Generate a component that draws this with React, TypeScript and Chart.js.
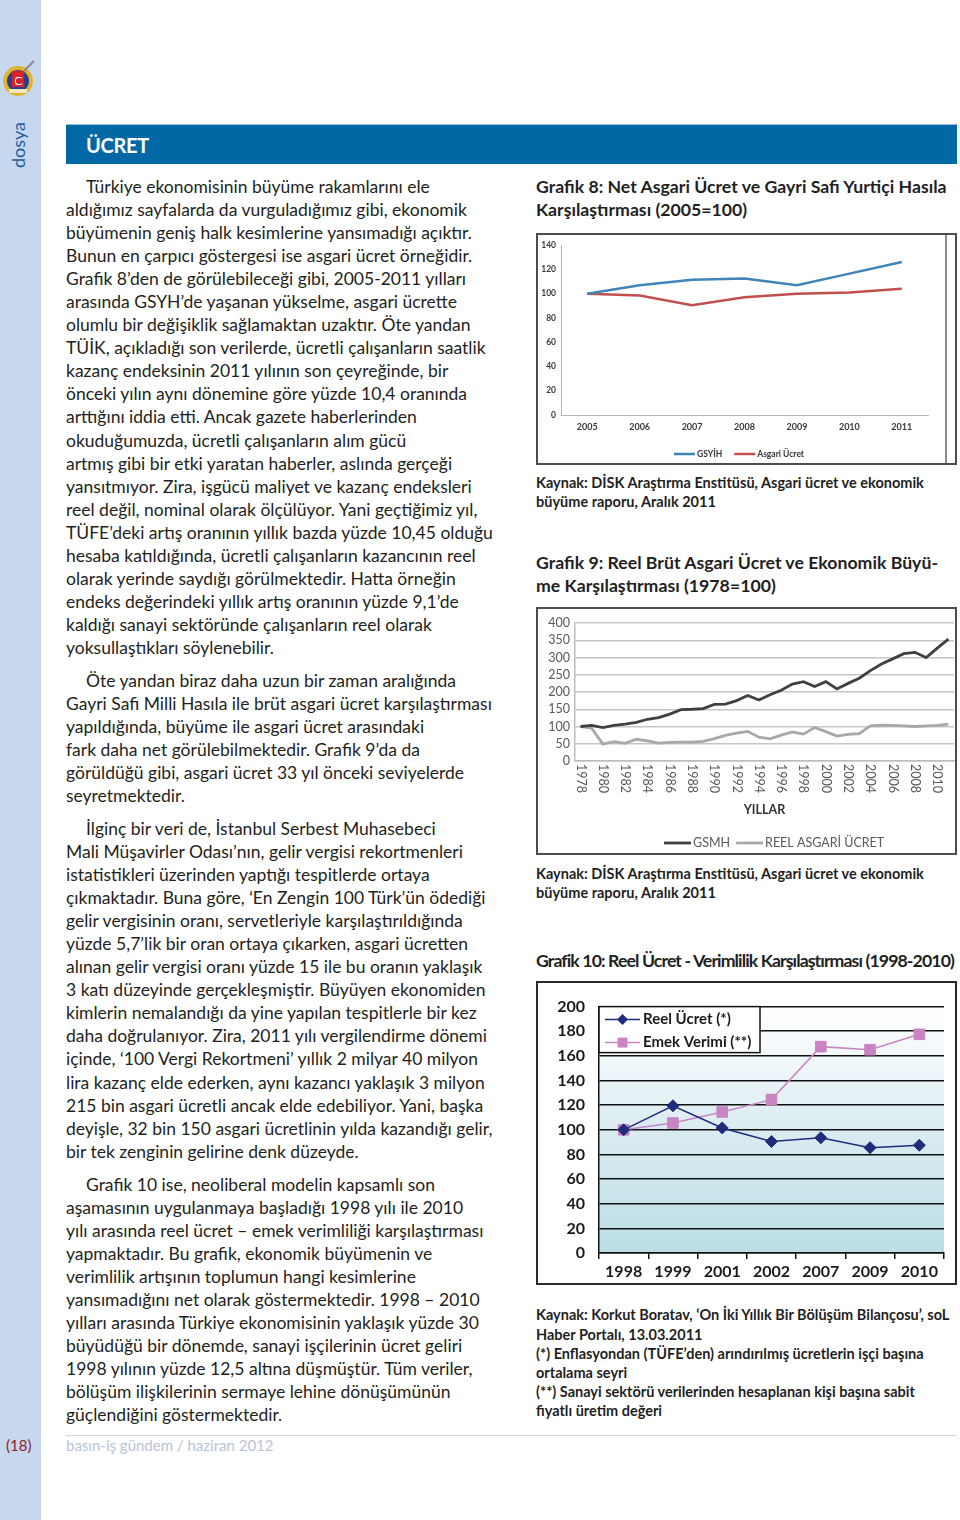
import React, { useEffect, useRef } from "react";
import { Chart, registerables } from "chart.js";
Chart.register(...registerables);

const FONT = "Lato, 'Open Sans', sans-serif";

// ---------- Grafik 8 data ----------
const g8Years = ["2005", "2006", "2007", "2008", "2009", "2010", "2011"];
const g8Gsyih = [100, 107, 111.5, 112.5, 107, 116.5, 126];
const g8Asgari = [100, 98.5, 90.5, 97, 100, 101, 104];
const g8Names = ["GSYİH", "Asgari Ücret"];

// ---------- Grafik 9 data ----------
const g9Years = [
  "1978", "1979", "1980", "1981", "1982", "1983", "1984", "1985", "1986", "1987",
  "1988", "1989", "1990", "1991", "1992", "1993", "1994", "1995", "1996", "1997",
  "1998", "1999", "2000", "2001", "2002", "2003", "2004", "2005", "2006", "2007",
  "2008", "2009", "2010", "2011",
];
const g9Gsmh = [
  100, 103, 97, 103, 107, 112, 121, 126, 136, 149,
  150, 152, 164, 165, 175, 190, 177, 192, 205, 223,
  230, 216, 230, 209, 225, 240, 262, 281, 296, 311,
  315, 300, 327, 353,
];
const g9Reel = [
  100, 95, 49, 56, 51, 63, 58, 52, 54, 55,
  55, 57, 65, 74, 81, 86, 69, 64, 75, 84,
  78, 97, 85, 72, 77, 79, 102, 104, 103, 102,
  100, 102, 103, 107,
];
const g9Names = ["GSMH", "REEL ASGARİ ÜCRET"];
const g9AxisTitle = "YILLAR";

// ---------- Grafik 10 data ----------
const g10Years = ["1998", "1999", "2001", "2002", "2007", "2009", "2010"];
const g10Reel = [100, 119.5, 101.5, 90.5, 93.5, 85.5, 87.5];
const g10Emek = [100, 105.5, 114.5, 124.5, 167.5, 165, 177.5];
const g10Names = ["Reel Ücret (*)", "Emek Verimi (**)"];

// ---------- text ----------
const leftParas: { top: number; lines: string[] }[] = [
  {
    top: 174.5,
    lines: [
      "Türkiye ekonomisinin büyüme rakamlarını ele",
      "aldığımız sayfalarda da vurguladığımız gibi, ekonomik",
      "büyümenin geniş halk kesimlerine yansımadığı açıktır.",
      "Bunun en çarpıcı göstergesi ise asgari ücret örneğidir.",
      "Grafik 8’den de görülebileceği gibi, 2005-2011 yılları",
      "arasında GSYH’de yaşanan yükselme, asgari ücrette",
      "olumlu bir değişiklik sağlamaktan uzaktır. Öte yandan",
      "TÜİK, açıkladığı son verilerde, ücretli çalışanların saatlik",
      "kazanç endeksinin 2011 yılının son çeyreğinde, bir",
      "önceki yılın aynı dönemine göre yüzde 10,4 oranında",
      "arttığını iddia etti. Ancak gazete haberlerinden",
      "okuduğumuzda, ücretli çalışanların alım gücü",
      "artmış gibi bir etki yaratan haberler, aslında gerçeği",
      "yansıtmıyor. Zira, işgücü maliyet ve kazanç endeksleri",
      "reel değil, nominal olarak ölçülüyor. Yani geçtiğimiz yıl,",
      "TÜFE’deki artış oranının yıllık bazda yüzde 10,45 olduğu",
      "hesaba katıldığında, ücretli çalışanların kazancının reel",
      "olarak yerinde saydığı görülmektedir. Hatta örneğin",
      "endeks değerindeki yıllık artış oranının yüzde 9,1’de",
      "kaldığı sanayi sektöründe çalışanların reel olarak",
      "yoksullaştıkları söylenebilir.",
    ],
  },
  {
    top: 668.5,
    lines: [
      "Öte yandan biraz daha uzun bir zaman aralığında",
      "Gayri Safi Milli Hasıla ile brüt asgari ücret karşılaştırması",
      "yapıldığında, büyüme ile asgari ücret arasındaki",
      "fark daha net görülebilmektedir. Grafik 9’da da",
      "görüldüğü gibi, asgari ücret 33 yıl önceki seviyelerde",
      "seyretmektedir.",
    ],
  },
  {
    top: 816.5,
    lines: [
      "İlginç bir veri de, İstanbul Serbest Muhasebeci",
      "Mali Müşavirler Odası’nın, gelir vergisi rekortmenleri",
      "istatistikleri üzerinden yaptığı tespitlerde ortaya",
      "çıkmaktadır. Buna göre, ‘En Zengin 100 Türk’ün ödediği",
      "gelir vergisinin oranı, servetleriyle karşılaştırıldığında",
      "yüzde 5,7’lik bir oran ortaya çıkarken, asgari ücretten",
      "alınan gelir vergisi oranı yüzde 15 ile bu oranın yaklaşık",
      "3 katı düzeyinde gerçekleşmiştir. Büyüyen ekonomiden",
      "kimlerin nemalandığı da yine yapılan tespitlerle bir kez",
      "daha doğrulanıyor. Zira, 2011 yılı vergilendirme dönemi",
      "içinde, ‘100 Vergi Rekortmeni’ yıllık 2 milyar 40 milyon",
      "lira kazanç elde ederken, aynı kazancı yaklaşık 3 milyon",
      "215 bin asgari ücretli ancak elde edebiliyor. Yani, başka",
      "deyişle, 32 bin 150 asgari ücretlinin yılda kazandığı gelir,",
      "bir tek zenginin gelirine denk düzeyde.",
    ],
  },
  {
    top: 1172.5,
    lines: [
      "Grafik 10 ise, neoliberal modelin kapsamlı son",
      "aşamasının uygulanmaya başladığı 1998 yılı ile 2010",
      "yılı arasında reel ücret – emek verimliliği karşılaştırması",
      "yapmaktadır. Bu grafik, ekonomik büyümenin ve",
      "verimlilik artışının toplumun hangi kesimlerine",
      "yansımadığını net olarak göstermektedir. 1998 – 2010",
      "yılları arasında Türkiye ekonomisinin yaklaşık yüzde 30",
      "büyüdüğü bir dönemde, sanayi işçilerinin ücret geliri",
      "1998 yılının yüzde 12,5 altına düşmüştür. Tüm veriler,",
      "bölüşüm ilişkilerinin sermaye lehine dönüşümünün",
      "güçlendiğini göstermektedir.",
    ],
  },
];

const title8 = ["Grafik 8: Net Asgari Ücret ve Gayri Safi Yurtiçi Hasıla", "Karşılaştırması (2005=100)"];
const source12 = ["Kaynak: DİSK Araştırma Enstitüsü, Asgari ücret ve ekonomik", "büyüme raporu, Aralık 2011"];
const title9 = ["Grafik 9: Reel Brüt Asgari Ücret ve Ekonomik Büyü-", "me Karşılaştırması (1978=100)"];
const title10 = ["Grafik 10: Reel Ücret - Verimlilik Karşılaştırması (1998-2010)"];
const source3 = [
  "Kaynak: Korkut Boratav, ‘On İki Yıllık Bir Bölüşüm Bilançosu’, soL",
  "Haber Portalı, 13.03.2011",
  "(*) Enflasyondan (TÜFE’den) arındırılmış ücretlerin işçi başına",
  "ortalama seyri",
  "(**) Sanayi sektörü verilerinden hesaplanan kişi başına sabit",
  "fiyatlı üretim değeri",
];

// ---------- helpers ----------
function drawLineLegend(
  ctx: CanvasRenderingContext2D,
  chart: any,
  names: string[],
  startX: number,
  y: number,
  lineLen: number,
  gap: number,
  font: string,
  color: string
) {
  ctx.save();
  ctx.font = font;
  ctx.textBaseline = "middle";
  ctx.textAlign = "left";
  let x = startX;
  chart.data.datasets.forEach((ds: any, i: number) => {
    ctx.strokeStyle = ds.borderColor;
    ctx.lineWidth = ds.borderWidth;
    ctx.beginPath();
    ctx.moveTo(x, y);
    ctx.lineTo(x + lineLen, y);
    ctx.stroke();
    x += lineLen + 2;
    ctx.fillStyle = color;
    ctx.fillText(names[i], x, y);
    x += ctx.measureText(names[i]).width + gap;
  });
  ctx.restore();
}

function ChartBox(props: {
  left: number;
  top: number;
  width: number;
  height: number;
  border: string;
  make: () => any;
  children?: any;
}) {
  const ref = useRef<HTMLCanvasElement | null>(null);
  useEffect(() => {
    if (!ref.current) return;
    const chart = new Chart(ref.current, props.make());
    return () => chart.destroy();
  }, []);
  const bw = 2;
  return (
    <div
      style={{
        position: "absolute",
        left: props.left,
        top: props.top,
        width: props.width,
        height: props.height,
        boxSizing: "border-box",
        border: `${bw}px solid ${props.border}`,
        background: "#fff",
      }}
    >
      <canvas
        ref={ref}
        width={props.width - 2 * bw}
        height={props.height - 2 * bw}
        style={{ display: "block", width: props.width - 2 * bw, height: props.height - 2 * bw }}
      />
      {props.children}
    </div>
  );
}

// ---------- chart configs ----------
function makeG8() {
  return {
    type: "line",
    data: {
      labels: g8Years,
      datasets: [
        { label: g8Names[0], data: g8Gsyih, borderColor: "#3f85ba", borderWidth: 2.5, pointRadius: 0, tension: 0 },
        { label: g8Names[1], data: g8Asgari, borderColor: "#c0504d", borderWidth: 2.5, pointRadius: 0, tension: 0 },
      ],
    },
    options: {
      animation: false,
      responsive: false,
      devicePixelRatio: 1,
      layout: { padding: { top: 7, right: 27, left: 0, bottom: 26 } },
      plugins: { legend: { display: false }, tooltip: { enabled: false } },
      scales: {
        x: {
          offset: true,
          grid: { display: false, drawTicks: false },
          border: { display: true, color: "#b8b8b8", width: 1 },
          ticks: { font: { family: FONT, size: 9, weight: "bold" }, color: "#3a3a3a", padding: 7 },
          afterFit: (s: any) => { s.height = 22; },
        },
        y: {
          min: 0,
          max: 140,
          grid: { display: false, drawTicks: false },
          border: { display: true, color: "#b8b8b8", width: 1 },
          ticks: { stepSize: 20, autoSkip: false, font: { family: FONT, size: 8.5, weight: "bold" }, color: "#3a3a3a", padding: 5 },
          afterFit: (s: any) => { s.width = 23; },
        },
      },
    },
    plugins: [
      {
        id: "leg8",
        afterDraw(chart: any) {
          drawLineLegend(chart.ctx, chart, g8Names, 136, 219, 21, 12, `bold 8.5px ${FONT}`, "#333");
        },
      },
    ],
  };
}

function makeG9() {
  return {
    type: "line",
    data: {
      labels: g9Years,
      datasets: [
        { label: g9Names[0], data: g9Gsmh, borderColor: "#404040", borderWidth: 2.8, pointRadius: 0, tension: 0 },
        { label: g9Names[1], data: g9Reel, borderColor: "#a8a8a8", borderWidth: 2.8, pointRadius: 0, tension: 0 },
      ],
    },
    options: {
      animation: false,
      responsive: false,
      devicePixelRatio: 1,
      layout: { padding: { top: 14, right: 1, left: 0, bottom: 0 } },
      plugins: { legend: { display: false }, tooltip: { enabled: false } },
      scales: {
        x: {
          offset: true,
          grid: { display: false, drawTicks: false },
          border: { display: true, color: "#bdbdbd", width: 1.5 },
          ticks: { display: false, autoSkip: false },
          afterFit: (s: any) => { s.height = 92; },
        },
        y: {
          min: 0,
          max: 400,
          grid: { color: "#c6c6c6", lineWidth: 1.5, drawTicks: false },
          border: { display: true, color: "#bdbdbd", width: 1.5 },
          ticks: { stepSize: 50, autoSkip: false, font: { family: FONT, size: 12.5 }, color: "#595959", padding: 5 },
          afterFit: (s: any) => { s.width = 37; },
        },
      },
    },
    plugins: [
      {
        id: "ticks9",
        afterDraw(chart: any) {
          const ctx = chart.ctx as CanvasRenderingContext2D;
          const xs = chart.scales.x;
          const base = chart.chartArea.bottom + 3;
          ctx.save();
          ctx.font = `12.5px ${FONT}`;
          ctx.fillStyle = "#595959";
          ctx.textAlign = "left";
          ctx.textBaseline = "middle";
          g9Years.forEach((yr, i) => {
            if (i % 2 !== 0) return;
            const x = xs.getPixelForValue(i);
            ctx.save();
            ctx.translate(x, base);
            ctx.rotate(Math.PI / 2);
            ctx.fillText(yr, 0, 0);
            ctx.restore();
          });
          ctx.font = `bold 12.5px ${FONT}`;
          ctx.fillStyle = "#333";
          ctx.textAlign = "center";
          const cx = (chart.chartArea.left + chart.chartArea.right) / 2;
          ctx.fillText(g9AxisTitle, cx, 201);
          ctx.restore();
          drawLineLegend(ctx, chart, g9Names, 126, 234, 27, 6, `12.5px ${FONT}`, "#595959");
        },
      },
    ],
  };
}

function makeG10() {
  return {
    type: "line",
    data: {
      labels: g10Years,
      datasets: [
        {
          label: g10Names[0],
          data: g10Reel,
          borderColor: "#1f2b7b",
          backgroundColor: "#1f2b7b",
          borderWidth: 1.5,
          pointStyle: "rectRot",
          pointRadius: 6,
          pointBorderWidth: 1,
          tension: 0,
        },
        {
          label: g10Names[1],
          data: g10Emek,
          borderColor: "#c985c3",
          backgroundColor: "#c985c3",
          borderWidth: 1.5,
          pointStyle: "rect",
          pointRadius: 7.5,
          pointBorderWidth: 1,
          tension: 0,
        },
      ],
    },
    options: {
      animation: false,
      responsive: false,
      devicePixelRatio: 1,
      layout: { padding: { top: 13, right: 11, left: 0, bottom: 0 } },
      plugins: { legend: { display: false }, tooltip: { enabled: false } },
      scales: {
        x: {
          offset: true,
          grid: { offset: true, drawOnChartArea: false, color: "#111", lineWidth: 1.5, tickLength: 6 },
          border: { display: true, color: "#111", width: 1.5 },
          ticks: { font: { family: FONT, size: 16, weight: "bold" }, color: "#1a1a1a", padding: 3 },
          afterFit: (s: any) => { s.height = 30; },
        },
        y: {
          min: 0,
          max: 200,
          grid: { color: "#111", lineWidth: 1.5, drawTicks: false },
          border: { display: true, color: "#111", width: 1.5 },
          ticks: { stepSize: 20, autoSkip: false, font: { family: FONT, size: 16, weight: "bold" }, color: "#1a1a1a", padding: 14 },
          afterFit: (s: any) => { s.width = 61; },
        },
      },
    },
    plugins: [
      {
        id: "bg10",
        beforeDraw(chart: any) {
          const { ctx, chartArea: a } = chart;
          const g = ctx.createLinearGradient(0, a.top, 0, a.bottom);
          g.addColorStop(0, "#ffffff");
          g.addColorStop(0.25, "#eef6f9");
          g.addColorStop(0.55, "#d6eaf0");
          g.addColorStop(1, "#bcdfe4");
          ctx.save();
          ctx.fillStyle = g;
          ctx.fillRect(a.left, a.top, a.right - a.left, a.bottom - a.top);
          ctx.restore();
        },
        afterDraw(chart: any) {
          const ctx = chart.ctx as CanvasRenderingContext2D;
          const a = chart.chartArea;
          const bx = a.left, by = a.top, bw = 161, bh = 46;
          ctx.save();
          ctx.fillStyle = "#fff";
          ctx.fillRect(bx, by, bw, bh);
          ctx.strokeStyle = "#111";
          ctx.lineWidth = 1.5;
          ctx.strokeRect(bx, by, bw, bh);
          ctx.font = `bold 15px ${FONT}`;
          ctx.textBaseline = "middle";
          ctx.textAlign = "left";
          chart.data.datasets.forEach((ds: any, i: number) => {
            const y = by + 13 + i * 23;
            ctx.strokeStyle = ds.borderColor;
            ctx.lineWidth = ds.borderWidth;
            ctx.beginPath();
            ctx.moveTo(bx + 6, y);
            ctx.lineTo(bx + 41, y);
            ctx.stroke();
            ctx.fillStyle = ds.backgroundColor;
            const mx = bx + 23.5;
            if (ds.pointStyle === "rectRot") {
              ctx.beginPath();
              ctx.moveTo(mx, y - 5.5);
              ctx.lineTo(mx + 5.5, y);
              ctx.lineTo(mx, y + 5.5);
              ctx.lineTo(mx - 5.5, y);
              ctx.closePath();
              ctx.fill();
            } else {
              ctx.fillRect(mx - 5, y - 5, 10, 10);
            }
            ctx.fillStyle = "#1a1a1a";
            ctx.fillText(g10Names[i], bx + 44, y);
          });
          ctx.restore();
        },
      },
    ],
  };
}

// ---------- page ----------
function Lines(props: {
  left: number;
  top: number;
  lh: number;
  size: number;
  bold?: boolean;
  color: string;
  lines: string[];
  indent?: number;
  spacing?: number;
}) {
  return (
    <div
      style={{
        position: "absolute",
        left: props.left,
        top: props.top,
        fontFamily: FONT,
        fontSize: props.size,
        lineHeight: `${props.lh}px`,
        fontWeight: props.bold ? 700 : 400,
        color: props.color,
        letterSpacing: props.spacing ?? 0,
        whiteSpace: "nowrap",
      }}
    >
      {props.lines.map((l, i) => (
        <div key={i} style={{ paddingLeft: i === 0 ? props.indent ?? 0 : 0 }}>
          {l}
        </div>
      ))}
    </div>
  );
}

export default function App() {
  const textColor = "#231f20";
  const titleColor = "#1f1f1f";
  return (
    <div
      style={{
        position: "absolute",
        left: 0,
        top: 0,
        width: 960,
        height: 1520,
        background: "#fff",
        overflow: "hidden",
        fontFamily: FONT,
      }}
    >
      {/* sidebar */}
      <div style={{ position: "absolute", left: 0, top: 0, width: 41, height: 1520, background: "#c6d7ee" }} />
      {/* logo */}
      <div style={{ position: "absolute", left: 3, top: 66, width: 30, height: 30, borderRadius: 15, background: "#e2b42c" }} />
      <div style={{ position: "absolute", left: 7, top: 70, width: 22, height: 22, borderRadius: 11, background: "#2c3f8f" }} />
      <div style={{ position: "absolute", left: 12, top: 71, width: 12, height: 16, background: "#d6232c" }} />
      <div style={{ position: "absolute", left: 15, top: 77, width: 6, height: 6, borderRadius: 3, border: "1.5px solid #fff", borderRightColor: "transparent" }} />
      <div style={{ position: "absolute", left: 22, top: 65, width: 14, height: 2, background: "#8a8a8a", transform: "rotate(-45deg)" }} />
      <div style={{ position: "absolute", left: 9, top: 89, width: 18, height: 4, background: "#f3e7c0" }} />
      {/* dosya */}
      <div
        style={{
          position: "absolute",
          left: 18,
          top: 145,
          transform: "translate(-50%, -50%) rotate(-90deg)",
          fontSize: 18,
          color: "#1f5c9e",
          whiteSpace: "nowrap",
          lineHeight: "20px",
        }}
      >
        dosya
      </div>
      <div style={{ position: "absolute", left: 6, top: 1436, fontSize: 15, lineHeight: "18px", color: "#8c1d2e" }}>(18)</div>

      {/* header */}
      <div style={{ position: "absolute", left: 66, top: 124, width: 891, height: 40, background: "#0069a5", borderTop: "1px solid #9cc3dd", boxSizing: "border-box" }} />
      <div style={{ position: "absolute", left: 86, top: 133, fontSize: 20, lineHeight: "24px", fontWeight: 700, color: "#fff", letterSpacing: -0.3 }}>ÜCRET</div>

      {/* left column */}
      {leftParas.map((p, i) => (
        <Lines key={i} left={66} top={p.top} lh={23.1} size={17.5} color={textColor} lines={p.lines} indent={20} spacing={0} />
      ))}

      {/* right column */}
      <Lines left={536} top={174.5} lh={23} size={17.7} bold color={titleColor} lines={title8} />
      <ChartBox left={536} top={233} width={421} height={232} border="#4d4d4d" make={makeG8}>
        <div style={{ position: "absolute", left: 407, top: 0, width: 1.5, height: 228, background: "#8c8c8c" }} />
      </ChartBox>
      <Lines left={536} top={472.5} lh={19} size={14.5} bold color={titleColor} lines={source12} />

      <Lines left={536} top={550.5} lh={23} size={17.7} bold color={titleColor} lines={title9} />
      <ChartBox left={536} top={607} width={421} height={248} border="#4d4d4d" make={makeG9} />
      <Lines left={536} top={863.5} lh={19} size={14.5} bold color={titleColor} lines={source12} />

      <Lines left={536} top={948.5} lh={23} size={17.7} bold color={titleColor} lines={title10} spacing={-0.9} />
      <ChartBox left={536} top={981} width={421} height={304} border="#2a2a2a" make={makeG10} />
      <Lines left={536} top={1305.4} lh={19.2} size={14.5} bold color={titleColor} lines={source3} />

      {/* footer */}
      <div style={{ position: "absolute", left: 66, top: 1435, width: 891, height: 1, background: "#cdd8e6" }} />
      <div style={{ position: "absolute", left: 66, top: 1436, fontSize: 15, lineHeight: "18px", color: "#b9c4d5" }}>basın-iş gündem / haziran 2012</div>
    </div>
  );
}
